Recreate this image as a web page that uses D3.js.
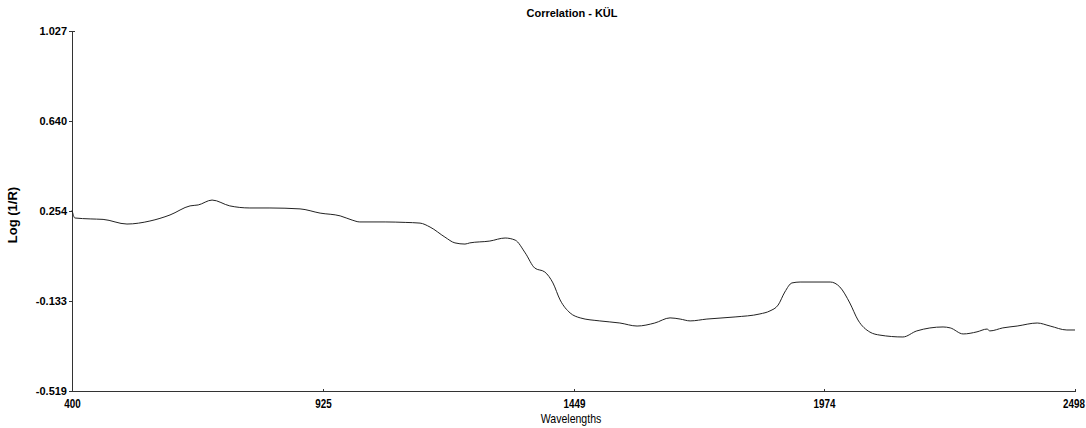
<!DOCTYPE html>
<html><head><meta charset="utf-8">
<script src="https://cdn.jsdelivr.net/npm/d3@7"></script>
<style>
body{margin:0;background:#fff;}
svg{display:block;}
text{font-family:"Liberation Sans",Arial,sans-serif;}
</style></head>
<body>
<svg id="chart" width="1086" height="428"></svg>
<script>
const wavelengths = [400,406,438,465,515,563,605,647,664,693,730,772,814,877,919,961,986,1002,1055,1097,1128,1149,1180,1201,1222,1232,1274,1306,1327,1348,1368,1389,1406,1421,1442,1463,1504,1546,1582,1619,1651,1672,1693,1728,1787,1839,1860,1877,1891,1906,1923,1986,2006,2027,2044,2069,2090,2138,2167,2222,2237,2264,2293,2314,2320,2347,2377,2419,2446,2481,2498];
const values = [0.258,0.224,0.220,0.218,0.198,0.211,0.237,0.276,0.280,0.301,0.276,0.267,0.267,0.263,0.245,0.233,0.215,0.207,0.207,0.205,0.202,0.185,0.142,0.117,0.112,0.117,0.125,0.138,0.129,0.074,0.009,-0.008,-0.055,-0.128,-0.184,-0.205,-0.218,-0.227,-0.240,-0.227,-0.205,-0.210,-0.218,-0.210,-0.201,-0.188,-0.175,-0.150,-0.094,-0.055,-0.051,-0.051,-0.072,-0.141,-0.214,-0.266,-0.279,-0.287,-0.261,-0.244,-0.248,-0.274,-0.265,-0.253,-0.261,-0.248,-0.240,-0.227,-0.240,-0.257,-0.257];
const xTicks = [400,925,1449,1974,2498];
const yTicks = [1.027,0.640,0.254,-0.133,-0.519];
const title = "Correlation - KÜL";
const xTitle = "Wavelengths";
const yTitle = "Log (1/R)";

const svg = d3.select("#chart");
const W = 1086;
const L=72, R=1075, T=31, B=391;
const x = d3.scaleLinear().domain([400,2498]).range([L,R]);
const y = d3.scaleLinear().domain([-0.519,1.027]).range([B,T]);

// axes lines
svg.append("line").attr("x1",L+0.5).attr("x2",L+0.5).attr("y1",T).attr("y2",B+0.5).attr("stroke","#333").attr("stroke-width",1);
svg.append("line").attr("x1",L).attr("x2",R+1).attr("y1",B+0.5).attr("y2",B+0.5).attr("stroke","#333").attr("stroke-width",1);

// y ticks
const yg = svg.append("g");
yTicks.forEach(v=>{
  const yy = Math.round(y(v))+0.5;
  yg.append("line").attr("x1",L-3).attr("x2",L).attr("y1",yy).attr("y2",yy).attr("stroke","#333");
  yg.append("text").attr("x",L-5).attr("y",yy).attr("dy","0.35em").attr("text-anchor","end")
    .attr("font-size",11).attr("font-weight","bold").attr("fill","#000").text(v.toFixed(3));
});
svg.append("line").attr("x1",L).attr("x2",L+3).attr("y1",T+0.5).attr("y2",T+0.5).attr("stroke","#333");

// x ticks
const xg = svg.append("g");
xTicks.forEach(v=>{
  const xx = Math.round(x(v))+0.5;
  xg.append("line").attr("x1",xx).attr("x2",xx).attr("y1",B-2).attr("y2",B).attr("stroke","#333");
  const t = xg.append("text").attr("text-anchor","middle")
    .attr("font-size",12).attr("font-weight","bold").attr("fill","#000").text(v);
  let cx = xx;
  const half = 0.82*t.node().getComputedTextLength()/2;
  if (cx + half > W - 1) cx = W - 1 - half;
  t.attr("transform",`translate(${cx},${B+17}) scale(0.82,1)`);
});

// titles
svg.append("text").attr("x",572).attr("y",17).attr("text-anchor","middle").attr("font-size",11).attr("font-weight","bold").attr("fill","#000").text(title);
svg.append("text").attr("transform","translate(571,423) scale(0.88,1)").attr("text-anchor","middle").attr("font-size",12)
  .attr("fill","#000").text(xTitle);
svg.append("text").attr("transform","translate(17,215) rotate(-90)").attr("text-anchor","middle").attr("font-size",13).attr("font-weight","bold").attr("fill","#000").text(yTitle);

// line
const data = wavelengths.map((w,i)=>({w, v:values[i]}));
const line = d3.line().x(d=>x(d.w)).y(d=>y(d.v)).curve(d3.curveMonotoneX);
svg.append("path").datum(data).attr("d",line).attr("fill","none").attr("stroke","#222").attr("stroke-width",1);
</script>
</body></html>
